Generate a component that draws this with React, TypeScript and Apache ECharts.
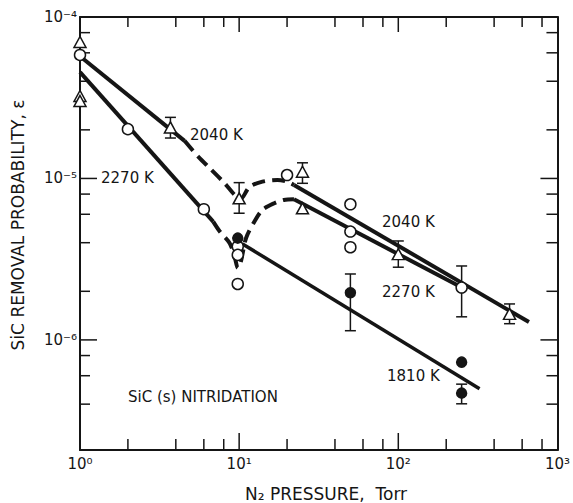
import React, { useEffect, useRef } from "react";
import * as echarts from "echarts";

// ---- data (pressure in Torr, removal probability epsilon) ----
const xMajorTicks = [1, 10, 100, 1000];
const xMinorTicks = [2, 4, 6, 8, 20, 40, 60, 80, 200, 400, 600, 800];
const xTickLabels = ["10⁰", "10¹", "10²", "10³"];
const yMajorTicks = [1e-6, 1e-5, 1e-4];
const yMinorTicks = [4e-7, 6e-7, 8e-7, 2e-6, 4e-6, 6e-6, 8e-6, 2e-5, 4e-5, 6e-5, 8e-5];
const yTickLabels = ["10⁻⁶", "10⁻⁵", "10⁻⁴"];
const xRange = [1, 1000];
const yRange = [2.08e-7, 1e-4];

const curve2040SolidA = [[1, 5.71e-5], [4.54, 1.71e-5]];
const curve2040Dashed = [[4.54, 1.71e-5], [5.55, 1.36e-5], [6.7, 1.13e-5], [8.11, 9.33e-6], [9.36, 7.91e-6], [10.2, 7.46e-6], [11.6, 8.85e-6], [14.0, 9.55e-6], [17.4, 9.79e-6], [20.0, 9.55e-6], [22.1, 9.12e-6]];
const curve2040SolidB = [[22.1, 9.12e-6], [662, 1.29e-6]];
const curve2270SolidA = [[1, 4.56e-5], [6.87, 5.4e-6]];
const curve2270Dashed = [[6.87, 5.4e-6], [7.56, 4.69e-6], [8.72, 3.97e-6], [9.4, 3.22e-6], [9.82, 2.79e-6], [10.24, 3.04e-6], [11.05, 4.27e-6], [12.46, 5.4e-6], [14.0, 6.38e-6], [16.6, 7.02e-6], [19.1, 7.36e-6], [22.1, 7.43e-6]];
const curve2270SolidB = [[22.1, 7.43e-6], [244, 2.14e-6]];
const curve1810 = [[10.5, 3.93e-6], [324, 4.98e-7]];

const openTriangles = [[1, 7.0e-5], [1, 3.24e-5], [1, 3.02e-5], [3.7, 2.07e-5], [10, 7.53e-6], [25, 1.1e-5], [25, 6.53e-6], [100, 3.4e-6], [500, 1.45e-6]];
const openCircles = [[1, 5.82e-5], [2, 2.02e-5], [6, 6.45e-6], [9.8, 3.79e-6], [9.8, 3.36e-6], [9.8, 2.22e-6], [20, 1.05e-5], [50, 6.92e-6], [50, 4.69e-6], [50, 3.75e-6], [250, 2.11e-6]];
const filledCircles = [[9.8, 4.27e-6], [50, 1.96e-6], [250, 7.28e-7], [250, 4.68e-7]];
// [pressure, low, high]
const errorBars = [[3.7, 1.78e-5, 2.39e-5], [10, 6.09e-6, 9.42e-6], [25, 9.33e-6, 1.25e-5], [50, 1.14e-6, 2.56e-6], [100, 2.82e-6, 4.1e-6], [250, 1.39e-6, 2.87e-6], [500, 1.26e-6, 1.67e-6], [250, 4.02e-7, 5.32e-7]];

const L = Math.log10;
const toLog = (pts: number[][]) => pts.map(([p, e]) => [L(p), L(e)]);
const INK = "#151515";
const FONT = '"DejaVu Sans", sans-serif';

const XB = L(xRange[0]), XT = L(xRange[1]);
const YB = L(yRange[0]), YT = L(yRange[1]);

const xLabel = (v: number) => xTickLabels[xMajorTicks.findIndex((t) => Math.abs(L(t) - v) < 1e-6)] ?? "";
const yLabel = (v: number) => yTickLabels[yMajorTicks.findIndex((t) => Math.abs(L(t) - v) < 1e-6)] ?? "";

function makeAxis(kind: "x" | "y", position: string, showLabel: boolean) {
  const majors = kind === "x" ? xMajorTicks : yMajorTicks;
  const vals = majors.map(L);
  return {
    type: "value",
    position,
    min: kind === "x" ? XB : YB,
    max: kind === "x" ? XT : YT,
    splitLine: { show: false },
    axisLine: { show: true, onZero: false, lineStyle: { color: INK, width: 2 } },
    axisTick: { show: false },
    axisLabel: {
      show: showLabel,
      customValues: vals,
      formatter: kind === "x" ? xLabel : yLabel,
      margin: kind === "x" ? 6 : 3,
      color: INK,
      fontSize: 15,
      fontFamily: FONT,
    },
  };
}

function lineSeries(data: number[][], dashed: boolean, width: number) {
  return {
    type: "line",
    data: toLog(data),
    showSymbol: false,
    symbol: "none",
    smooth: dashed ? 0.3 : false,
    z: 2,
    lineStyle: { color: INK, width, type: dashed ? [13, 7] : "solid", cap: "butt" },
    silent: true,
  };
}

function scatter(data: number[][], symbol: string, size: any, fill: string) {
  return {
    type: "scatter",
    data: toLog(data),
    symbol,
    symbolSize: size,
    z: 5,
    itemStyle: { color: fill, borderColor: INK, borderWidth: 1.5, opacity: 1 },
    silent: true,
  };
}

function text(x: number, y: number, t: string, size: number, align = "left", rotation = 0) {
  return {
    type: "text",
    x,
    y,
    rotation,
    z: 10,
    style: { text: t, font: `${size}px ${FONT}`, fill: INK, textAlign: align, textVerticalAlign: "middle" },
  };
}

const labels = [
  text(190, 135, "2040 K", 15),
  text(101, 178, "2270 K", 15),
  text(382, 222, "2040 K", 15),
  text(382, 292, "2270 K", 15),
  text(387, 376, "1810 K", 15),
  text(128, 397, "SiC (s) NITRIDATION", 15),
  text(18, 225, "SiC REMOVAL PROBABILITY, ε", 17, "center", Math.PI / 2),
  text(326, 494, "N₂ PRESSURE,  Torr", 17, "center"),
];

// one custom series draws error bars [x, lo, hi, -1] and tick marks [x, y, side, length]
// (tick datums sit inside the plot; the mark is drawn at the frame edge on `side`:
//  0 bottom, 1 top, 2 left, 3 right)
function buildMarkData() {
  const midX = (XB + XT) / 2, midY = (YB + YT) / 2;
  const inX = (v: number) => L(v) > XB + 1e-9 && L(v) < XT - 1e-9;
  const inY = (v: number) => L(v) > YB + 1e-9 && L(v) < YT - 1e-9;
  const out: number[][] = errorBars.map(([p, lo, hi]) => [L(p), L(lo), L(hi), -1]);
  xMajorTicks.filter(inX).forEach((v) => { out.push([L(v), midY, 0, 17]); out.push([L(v), midY, 1, 15]); });
  xMinorTicks.filter(inX).forEach((v) => { out.push([L(v), midY, 0, 11]); out.push([L(v), midY, 1, 10]); });
  yMajorTicks.filter(inY).forEach((v) => { out.push([midX, L(v), 2, 17]); out.push([midX, L(v), 3, 17]); });
  yMinorTicks.filter(inY).forEach((v) => { out.push([midX, L(v), 2, 10]); out.push([midX, L(v), 3, 11]); });
  return out;
}

export default function App() {
  const ref = useRef<HTMLDivElement>(null);
  useEffect(() => {
    if (!ref.current) return;
    const chart = echarts.init(ref.current, null, { renderer: "svg" });
    const option: any = {
      animation: false,
      backgroundColor: "#ffffff",
      grid: { left: 80, right: 9, top: 17, bottom: 53, containLabel: false },
      xAxis: [makeAxis("x", "bottom", true), makeAxis("x", "top", false)],
      yAxis: [makeAxis("y", "left", true), makeAxis("y", "right", false)],
      series: [
        lineSeries(curve2040SolidA, false, 4),
        lineSeries(curve2040Dashed, true, 4),
        lineSeries(curve2040SolidB, false, 4),
        lineSeries(curve2270SolidA, false, 4),
        lineSeries(curve2270Dashed, true, 4),
        lineSeries(curve2270SolidB, false, 4),
        lineSeries(curve1810, false, 3.5),
        {
          type: "custom",
          z: 3,
          silent: true,
          clip: false,
          data: buildMarkData(),
          renderItem: (params: any, api: any) => {
            const kind = api.value(3);
            const st = { stroke: INK, lineWidth: 1.5 };
            if (kind < 0) {
              const a = api.coord([api.value(0), api.value(1)]);
              const b = api.coord([api.value(0), api.value(2)]);
              const w = 5.5;
              return {
                type: "group",
                children: [
                  { type: "line", shape: { x1: a[0], y1: a[1], x2: b[0], y2: b[1] }, style: st },
                  { type: "line", shape: { x1: a[0] - w, y1: a[1], x2: a[0] + w, y2: a[1] }, style: st },
                  { type: "line", shape: { x1: b[0] - w, y1: b[1], x2: b[0] + w, y2: b[1] }, style: st },
                ],
              };
            }
            const p = api.coord([api.value(0), api.value(1)]);
            const lo = api.coord([XB, YB]);
            const hi = api.coord([XT, YT]);
            const side = api.value(2);
            let x1 = p[0], y1 = p[1], x2 = p[0], y2 = p[1];
            if (side === 0) { y1 = lo[1]; y2 = lo[1] - kind; }
            else if (side === 1) { y1 = hi[1]; y2 = hi[1] + kind; }
            else if (side === 2) { x1 = lo[0]; x2 = lo[0] + kind; }
            else { x1 = hi[0]; x2 = hi[0] - kind; }
            return {
              type: "group",
              children: [{ type: "line", shape: { x1, y1, x2, y2 }, style: st }],
            };
          },
        },
        scatter(openTriangles, "triangle", [12, 11], "#ffffff"),
        scatter(openCircles, "circle", 11, "#ffffff"),
        scatter(filledCircles, "circle", 10, INK),
      ],
      graphic: labels,
    };
    chart.setOption(option);
    return () => chart.dispose();
  }, []);
  return (
    <div
      ref={ref}
      style={{ position: "fixed", left: 0, top: 0, width: 573, height: 503, background: "#fff" }}
    />
  );
}
